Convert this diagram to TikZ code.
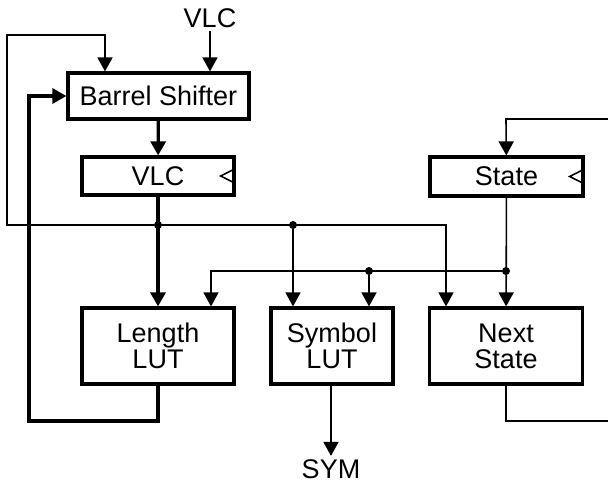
\documentclass[tikz,border=0pt]{standalone}
\usepackage{fontspec}
\setmainfont{Liberation Sans}
\usetikzlibrary{arrows.meta}

\tikzset{
  blk/.style={draw, line width=3.2pt, minimum width=#1, inner sep=0pt, align=center},
  wire/.style={line width=1.6pt},
  bus/.style={line width=3.2pt},
  tip/.style={-{Triangle[length=14pt,width=15pt]}},
  dot/.style={circle, fill, inner sep=0pt, minimum size=8pt},
}

\begin{document}
\begin{tikzpicture}[x=1pt, y=-1pt, font=\fontsize{27}{26}\selectfont]
  \useasboundingbox (0,0) rectangle (608,483);

  % --- blocks ---
  \node[blk=181pt, minimum height=46pt] (barrel) at (158.5,96) {Barrel Shifter};
  \node[blk=152pt, minimum height=38pt] (vlc)    at (158,176)  {VLC};
  \node[blk=153pt, minimum height=39pt] (state)  at (506.5,176.5) {State};
  \node[blk=152pt, minimum height=76pt] (len)    at (158,346)  {Length\\LUT};
  \node[blk=122pt, minimum height=76pt] (sym)    at (332,346)  {Symbol\\LUT};
  \node[blk=153pt, minimum height=76pt] (next)   at (506,346)  {Next\\State};

  % --- labels ---
  \node (vlcin)  at (210,18)  {VLC};
  \node (symout) at (331,469) {SYM};

  % --- clock marks ---
  \draw[wire] (vlc.east) ++(0,-7.5) -- ++(-15,7.5) -- ++(15,7.5);
  \draw[wire] (state.east) ++(0,-7.5) -- ++(-15,7.5) -- ++(15,7.5);

  % --- junctions ---
  \node[dot] (j1) at (158,225) {};
  \node[dot] (j2) at (293,225) {};
  \node[dot] (j3) at (506,271) {};
  \node[dot] (j4) at (369,271) {};

  % --- free ends / corners ---
  \coordinate (fb1) at (7,225);
  \coordinate (fb2) at (7,35);
  \coordinate (fb3) at (105,35);
  \coordinate (ln1) at (158,421);
  \coordinate (ln2) at (29,421);
  \coordinate (ns1) at (506,421);
  \coordinate (ns2) at (608,421);
  \coordinate (st1) at (608,119);
  \coordinate (st2) at (506,119);
  \coordinate (sb1) at (211,271);
  \coordinate (nb1) at (446,225);

  % --- data path ---
  \draw[wire, tip] (vlcin) -- (vlcin |- barrel.north);
  \draw[bus, tip] (barrel) -- (vlc);
  \draw[bus, tip] (vlc) -- (len);
  \draw[bus, tip] (len.south) -- (ln1) -- (ln2) |- (barrel.west);

  % --- VLC feedback ---
  \draw[wire, tip] (j1) -- (fb1) -- (fb2) -- (fb3) -- (fb3 |- barrel.north);
  \draw[wire, tip] (j1) -- (nb1) -- (nb1 |- next.north);
  \draw[wire, tip] (j2) -- (j2 |- sym.north);

  % --- state ---
  \draw[wire, tip] (state) -- (next);
  \draw[wire, tip] (j3) -- (sb1) -- (sb1 |- len.north);
  \draw[wire, tip] (j4) -- (j4 |- sym.north);
  \draw[wire] (next.south) -- (ns1) -- (ns2);
  \draw[wire, tip] (st1) -- (st2) -- (state);

  % --- output ---
  \draw[wire, tip] (sym.south -| symout) -- (symout);
\end{tikzpicture}
\end{document}
